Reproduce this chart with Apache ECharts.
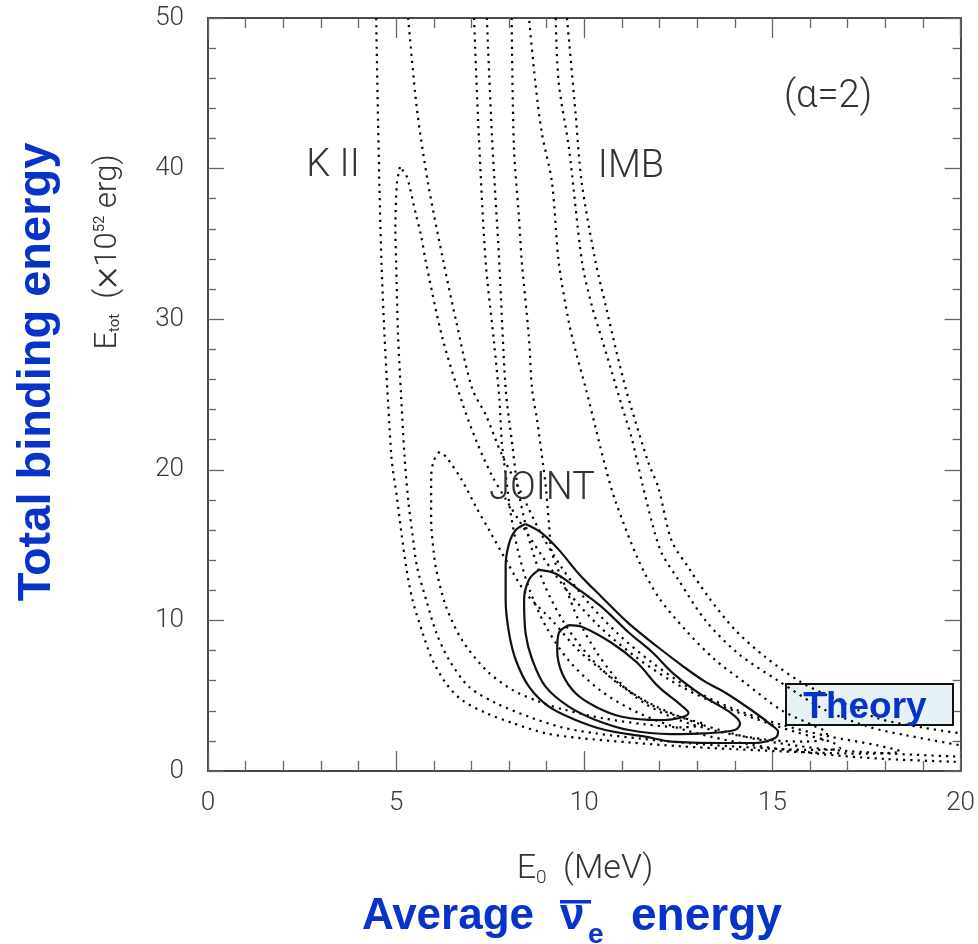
<!DOCTYPE html>
<html>
<head>
<meta charset="utf-8">
<script src="https://cdn.jsdelivr.net/npm/echarts@6/dist/echarts.min.js"></script>
<style>html,body{margin:0;padding:0;background:#fff;}#c{width:978px;height:944px;}</style>
</head>
<body>
<div id="c"></div>
<script>
// ---- data (E0 in MeV, Etot in 1e52 erg) ----
const xRange = [0, 20];
const yRange = [0, 50];
const xTickStep = 5;
const yTickStep = 10;

const kiiOuter = [[4.47,50],[4.61,33.8],[4.87,21],[5.03,18],[5.14,15.8],[5.27,13.5],[5.43,11.4],[5.7,9.2],[5.96,7.4],[6.33,5.8],[6.75,4.7],[7.39,3.85],[8.08,3.2],[8.98,2.5],[9.85,2.2],[11.18,1.9],[12.5,1.65],[14,1.45],[15.8,1.25],[17.5,1.15],[18.4,1.3],[17.8,1.7],[16.5,2.3],[15.2,3.1],[13.9,4.2],[12.8,5.5],[11.8,7.2],[10.9,9.1],[10.1,11.2],[9.4,13.5],[8.8,16],[8.3,18.6],[7.81,21.0],[7.39,23.6],[7.02,25.4],[6.6,29.8],[6.25,33.9],[5.85,39],[5.55,44],[5.32,50]];
const kiiMiddle = [[5.10,40.1],[5.02,39],[4.98,36],[5.0,33.8],[5.05,29],[5.13,25],[5.22,21],[5.32,18],[5.43,15.8],[5.56,13.5],[5.8,11.35],[6.07,9.16],[6.41,7.37],[6.94,5.58],[7.66,4.5],[8.53,3.6],[9.4,2.9],[10.3,2.5],[11.5,2.15],[13,1.8],[14.5,1.55],[16,1.4],[16.8,1.5],[16.6,1.9],[15.6,2.6],[14.4,3.6],[13.3,4.7],[12.3,6.0],[11.3,7.7],[10.4,9.6],[9.6,11.8],[8.9,14.2],[8.3,16.5],[7.95,17.9],[7.55,19.6],[7.15,21.8],[6.75,24.5],[6.23,28.75],[5.79,33.8],[5.66,35.6],[5.53,36.9],[5.35,38.9],[5.26,39.6],[5.10,40.1]];
const kiiInner = [[6.15,21.2],[6.0,20.6],[5.93,19.5],[5.93,16.7],[6.0,14.5],[6.07,13.3],[6.33,10.9],[6.75,8.7],[7.39,6.7],[8.08,5.4],[8.8,4.6],[9.5,4.05],[10.5,3.5],[11.6,3.1],[12.6,2.9],[13.2,3.1],[12.8,3.4],[12.05,4.05],[11.26,5.2],[10.57,6.5],[9.85,8.0],[9.14,10.0],[8.45,11.8],[7.92,14.0],[7.47,16.0],[7.13,17.5],[6.75,19.3],[6.33,20.85],[6.15,21.2]];
const imbOuterLeft = [[7.07,50],[7.2,42],[7.38,33.8],[7.6,28.5],[7.74,24.8],[7.81,21.8],[7.92,19.5],[8.05,17],[8.25,14.5],[8.55,12],[9.0,9.5],[9.6,7.3],[10.4,5.4],[11.4,3.9],[12.7,2.7],[14.3,1.8],[16.2,1.15],[18,0.8],[20,0.6]];
const imbOuterRight = [[9.54,50],[9.77,43.6],[9.93,39.1],[10.3,33.8],[10.57,30.9],[10.83,28.1],[11.1,25.4],[11.36,23.2],[11.7,20.5],[11.97,18.8],[12.32,15.3],[12.77,13.5],[13.3,11.55],[14.01,9.36],[14.81,7.57],[15.76,5.9],[16.74,4.7],[17.8,3.5],[19.05,2.86],[20,2.5]];
const imbMiddleLeft = [[7.41,50],[7.55,42],[7.74,33.8],[7.91,25.4],[8.08,21.8],[8.21,19.2],[8.38,17],[8.6,14.8],[8.95,12.3],[9.45,9.9],[10.1,7.7],[10.9,5.8],[11.9,4.3],[13.1,3.1],[14.6,2.1],[16.4,1.45],[18.2,1.15],[20,0.95]];
const imbMiddleRight = [[9.24,50],[9.32,45.7],[9.59,41.4],[9.94,33.8],[10.2,30.9],[10.46,28.75],[10.73,26.5],[10.99,24.3],[11.26,22.1],[11.55,19.0],[11.8,16.5],[12.05,14.5],[12.5,12.7],[13.22,10.0],[14.09,7.8],[15.15,6.0],[16.4,4.05],[17.6,2.9],[18.5,2.4],[20,1.7]];
const imbInner = [[8.07,50],[8.13,41.4],[8.26,36.9],[8.34,33.8],[8.53,28.75],[8.61,25.4],[8.74,23.4],[8.87,21.0],[8.98,18.8],[9.06,16.5],[9.14,14.5],[9.5,12.2],[9.85,10.0],[10.3,8.0],[10.9,6.0],[11.6,4.5],[12.5,3.4],[13.6,2.6],[14.8,2.1],[15.8,1.95],[16.35,2.1],[16.45,2.5],[16.1,3.0],[15.23,4.05],[14.28,5.84],[13.48,7.37],[12.69,9.36],[11.97,11.55],[11.44,14.0],[10.83,17.9],[10.57,20.1],[10.3,22.8],[10.04,25.4],[9.8,27.6],[9.59,29.8],[9.32,33.8],[9.14,39.1],[8.87,42.4],[8.7,45.7],[8.53,50]];
const jointOuter = [[8.44,16.4],[8.87,15.8],[9.32,14.7],[9.85,13.1],[10.46,11.56],[11.18,9.8],[11.97,8.2],[12.6,7.0],[13.2,5.95],[13.75,5.2],[14.44,4.05],[14.97,3.05],[15.15,2.6],[15.07,2.19],[14.54,1.86],[13.64,1.86],[12.32,1.95],[11.62,2.28],[10.56,2.72],[9.77,3.39],[9.06,4.27],[8.53,5.6],[8.18,7.37],[8.0,9.16],[7.91,11.35],[7.91,13.6],[8.0,15.1],[8.18,16.0],[8.44,16.4]];
const jointMiddle = [[8.79,13.35],[9.24,13.1],[9.77,12.2],[10.46,10.9],[11.18,9.2],[11.8,7.9],[12.4,6.4],[13.2,4.9],[13.9,3.85],[14.14,3.15],[14.0,2.72],[13.2,2.5],[12.3,2.45],[11.18,2.72],[10.3,3.39],[9.59,4.27],[8.97,5.6],[8.62,7.37],[8.44,9.14],[8.40,11.35],[8.53,12.7],[8.79,13.35]];
const jointInner = [[9.59,9.69],[9.93,9.58],[10.73,8.5],[11.4,7.2],[11.97,5.6],[12.58,4.35],[12.77,3.85],[12.5,3.5],[12.0,3.38],[11.0,3.6],[10.3,4.27],[9.77,5.16],[9.41,6.49],[9.28,8.03],[9.32,9.14],[9.59,9.69]];

const dottedCurves = [kiiOuter, kiiMiddle, kiiInner, imbOuterLeft, imbOuterRight, imbMiddleLeft, imbMiddleRight, imbInner];
const solidCurves = [jointOuter, jointMiddle, jointInner];

const labelFont = 'Roboto, "DejaVu Sans", sans-serif';
const blue = '#0833c8';

const chart = echarts.init(document.getElementById('c'), null, {renderer: 'canvas'});

function axisCommon(showLabel, pos, isX) {
  return {
    type: 'value',
    position: pos,
    min: isX ? xRange[0] : yRange[0],
    max: isX ? xRange[1] : yRange[1],
    interval: isX ? xTickStep : yTickStep,
    axisLine: {show: true, onZero: false, lineStyle: {color: '#4a4a4a', width: 2}},
    axisTick: {show: true, inside: true, length: isX ? 20 : 16, lineStyle: {color: '#666', width: 1.3}},
    minorTick: {show: true, splitNumber: 5, length: isX ? 10 : 8, lineStyle: {color: '#666', width: 1.3}},
    splitLine: {show: false},
    axisLabel: {
      show: showLabel, color: '#3a3a3a', fontSize: 26, fontFamily: labelFont, fontWeight: 300,
      margin: isX ? 19 : 24
    }
  };
}

const series = [];
dottedCurves.forEach(c => series.push({
  type: 'line', data: c, showSymbol: false, smooth: 0.3, silent: true,
  lineStyle: {color: '#000', width: 2.2, type: [2.2, 5.0], cap: 'butt'}, z: 3
}));
solidCurves.forEach(c => series.push({
  type: 'line', data: c, showSymbol: false, smooth: 0.35, silent: true,
  lineStyle: {color: '#111', width: 2.2}, z: 4
}));

const grayText = (txt, x, y, size) => ({
  type: 'text', x: x, y: y, z: 20,
  style: {text: txt, fill: '#333', font: `300 ${size}px ${labelFont}`, align: 'center', verticalAlign: 'middle'}
});

chart.setOption({
  animation: false,
  backgroundColor: '#fff',
  grid: {left: 208, right: 15, top: 18, bottom: 173, containLabel: false},
  xAxis: [axisCommon(true, 'bottom', true), axisCommon(false, 'top', true)],
  yAxis: [axisCommon(true, 'left', false), axisCommon(false, 'right', false)],
  series: series,
  graphic: [
    grayText('K II', 333, 166, 38),
    grayText('IMB', 631, 167, 38),
    grayText('JOINT', 542, 489, 38),
    grayText('(α=2)', 828, 97, 38),
    {
      type: 'rect', z: 1, shape: {x: 786, y: 684, width: 167, height: 41},
      style: {fill: 'rgba(226,240,244,0.85)', stroke: '#111', lineWidth: 2}
    },
    {
      type: 'text', x: 865, y: 708, z: 25,
      style: {text: 'Theory', fill: blue, font: `bold 37px "Liberation Sans", Arial, sans-serif`, align: 'center', verticalAlign: 'middle'}
    },
    {
      type: 'text', x: 585, y: 869, z: 20,
      style: {
        text: '{m|E}{s|0}{m|  (MeV)}', align: 'center', verticalAlign: 'middle',
        rich: {
          m: {fontSize: 34, fontFamily: labelFont, fontWeight: 300, fill: '#333', lineHeight: 44, verticalAlign: 'middle'},
          s: {fontSize: 19, fontFamily: labelFont, fontWeight: 300, fill: '#333', lineHeight: 44, verticalAlign: 'bottom', padding: [0, 0, 3, 0]}
        }
      }
    },
    {
      type: 'text', x: 108, y: 252, rotation: Math.PI / 2, z: 20,
      style: {
        text: '{m|E}{s|tot}{m|  (}{x|×}{m|10}{p|52}{m| erg)}', align: 'center', verticalAlign: 'middle',
        rich: {
          m: {fontSize: 31, fontFamily: labelFont, fontWeight: 300, fill: '#333', lineHeight: 42, verticalAlign: 'middle'},
          x: {fontSize: 42, fontFamily: labelFont, fontWeight: 300, fill: '#333', lineHeight: 42, verticalAlign: 'middle'},
          s: {fontSize: 15, fontFamily: labelFont, fontWeight: 400, fill: '#333', lineHeight: 42, verticalAlign: 'bottom', padding: [0, 0, 6, 0]},
          p: {fontSize: 15, fontFamily: labelFont, fontWeight: 400, fill: '#333', lineHeight: 42, verticalAlign: 'top', padding: [6, 0, 0, 0]}
        }
      }
    },
    {
      type: 'text', x: 37, y: 372, rotation: Math.PI / 2, z: 20,
      style: {text: 'Total binding energy', fill: blue, font: `bold 47px "Liberation Sans", Arial, sans-serif`, align: 'center', verticalAlign: 'middle'}
    },
    {
      type: 'text', x: 362, y: 917, z: 20,
      style: {text: 'Average', fill: blue, font: `bold 44px "Liberation Sans", Arial, sans-serif`, align: 'left', verticalAlign: 'middle'}
    },
    {
      type: 'text', x: 560, y: 917, z: 20,
      style: {text: 'ν', fill: blue, font: `bold 44px "Liberation Sans", Arial, sans-serif`, align: 'left', verticalAlign: 'middle'}
    },
    {
      type: 'rect', z: 20, shape: {x: 560, y: 900, width: 31, height: 3.5},
      style: {fill: blue}
    },
    {
      type: 'text', x: 588, y: 935, z: 20,
      style: {text: 'e', fill: blue, font: `bold 28px "Liberation Sans", Arial, sans-serif`, align: 'left', verticalAlign: 'middle'}
    },
    {
      type: 'text', x: 631, y: 917, z: 20,
      style: {text: 'energy', fill: blue, font: `bold 46px "Liberation Sans", Arial, sans-serif`, align: 'left', verticalAlign: 'middle'}
    }
  ]
});
</script>
</body>
</html>
